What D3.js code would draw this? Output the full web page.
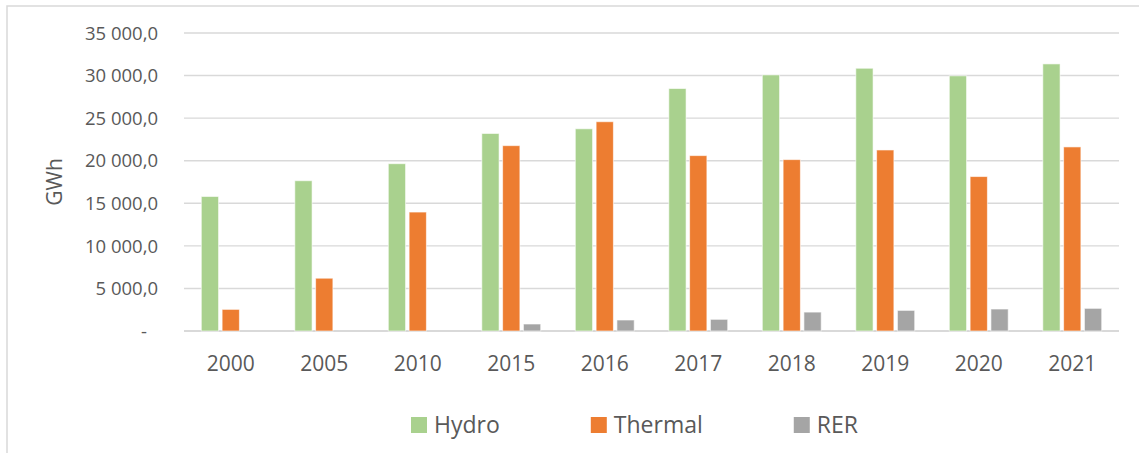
<!DOCTYPE html>
<html>
<head>
<meta charset="utf-8">
<script src="https://cdn.jsdelivr.net/npm/d3@7"></script>
<style>
  body { margin: 0; background: #fff; }
  text { font-family: "Open Sans", sans-serif; fill: #595959; }
</style>
</head>
<body>
<script>
// data (GWh)
var years = ["2000", "2005", "2010", "2015", "2016", "2017", "2018", "2019", "2020", "2021"];
var seriesNames = ["Hydro", "Thermal", "RER"];
var hydro   = [15800, 17650, 19650, 23200, 23750, 28480, 30080, 30860, 29970, 31370];
var thermal = [2540, 6200, 13970, 21770, 24580, 20600, 20130, 21260, 18140, 21620];
var rer     = [0, 0, 0, 820, 1290, 1370, 2220, 2420, 2580, 2660];
var yTicks  = [0, 5000, 10000, 15000, 20000, 25000, 30000, 35000];
var colors  = ["#a9d18e", "#ed7d31", "#a5a5a5"];

var width = 1139, height = 453;
var margin = {top: 33, right: 20, bottom: 121, left: 184};

var svg = d3.select("body").append("svg")
    .attr("width", width)
    .attr("height", height);

// outer frame (only left and top edges are visible in the picture)
svg.append("rect")
    .attr("x", 7).attr("y", 6)
    .attr("width", width + 10).attr("height", height + 10)
    .attr("fill", "none")
    .attr("stroke", "#d9d9d9")
    .attr("stroke-width", 1.5);

var x0 = d3.scaleBand()
    .domain(years)
    .range([margin.left, width - margin.right])
    .paddingInner(0.37)
    .paddingOuter(0.185);

var x1 = d3.scaleBand()
    .domain(seriesNames)
    .range([0, x0.bandwidth()])
    .paddingInner(0.17);

var y = d3.scaleLinear()
    .domain([0, 35000])
    .range([height - margin.bottom - 1, margin.top]);

var loc = d3.formatLocale({decimal: ",", thousands: "\u00a0", grouping: [3], currency: ["", ""]});
var fmt = loc.format(",.1f");

// gridlines
svg.append("g")
  .selectAll("line")
  .data(yTicks)
  .enter().append("line")
    .attr("x1", margin.left)
    .attr("x2", width - margin.right)
    .attr("y1", function(d) { return y(d); })
    .attr("y2", function(d) { return y(d); })
    .attr("stroke", "#d9d9d9")
    .attr("stroke-width", function(d) { return d === 0 ? 2 : 1.4; });

// y labels
svg.append("g")
  .selectAll("text")
  .data(yTicks)
  .enter().append("text")
    .attr("x", function(d) { return d === 0 ? 147 : 158; })
    .attr("y", function(d) { return y(d); })
    .attr("dy", "0.36em")
    .attr("text-anchor", "end")
    .style("font-size", "18.5px")
    .text(function(d) { return d === 0 ? "-" : fmt(d); });

svg.append("text")
    .attr("transform", "translate(62," + ((y(0) + y(35000)) / 2) + ") rotate(-90)")
    .attr("text-anchor", "middle")
    .style("font-size", "21px")
    .text("GWh");

// bars
var rows = years.map(function(yr, i) {
  return {year: yr, values: [hydro[i], thermal[i], rer[i]]};
});

var groups = svg.append("g")
  .selectAll("g")
  .data(rows)
  .enter().append("g")
    .attr("transform", function(d) { return "translate(" + x0(d.year) + ",0)"; });

groups.selectAll("rect")
  .data(function(d) { return d.values.map(function(v, j) { return {s: seriesNames[j], v: v, j: j}; }); })
  .enter().append("rect")
    .filter(function(d) { return d.v > 0; })
    .attr("x", function(d) { return x1(d.s); })
    .attr("width", x1.bandwidth())
    .attr("y", function(d) { return y(d.v); })
    .attr("height", function(d) { return y(0) - y(d.v); })
    .attr("fill", function(d) { return colors[d.j]; })
    .attr("stroke", "#fff")
    .attr("stroke-opacity", 0.6)
    .attr("stroke-width", 1);

// x labels
svg.append("g")
  .selectAll("text")
  .data(years)
  .enter().append("text")
    .attr("x", function(d) { return x0(d) + x0.bandwidth() / 2; })
    .attr("y", 371)
    .attr("text-anchor", "middle")
    .style("font-size", "21px")
    .text(function(d) { return d; });

// legend
var legend = svg.append("g").attr("transform", "translate(411,425)");
var lx = 0;
seriesNames.forEach(function(name, i) {
  var item = legend.append("g").attr("transform", "translate(" + lx + ",0)");
  item.append("rect")
      .attr("x", 0).attr("y", -8)
      .attr("width", 16).attr("height", 16)
      .attr("fill", colors[i]);
  var t = item.append("text")
      .attr("x", 23).attr("y", 0)
      .attr("dy", "0.36em")
      .style("font-size", "23px")
      .text(name);
  lx += 23 + t.node().getComputedTextLength() + 91;
});
</script>
</body>
</html>
